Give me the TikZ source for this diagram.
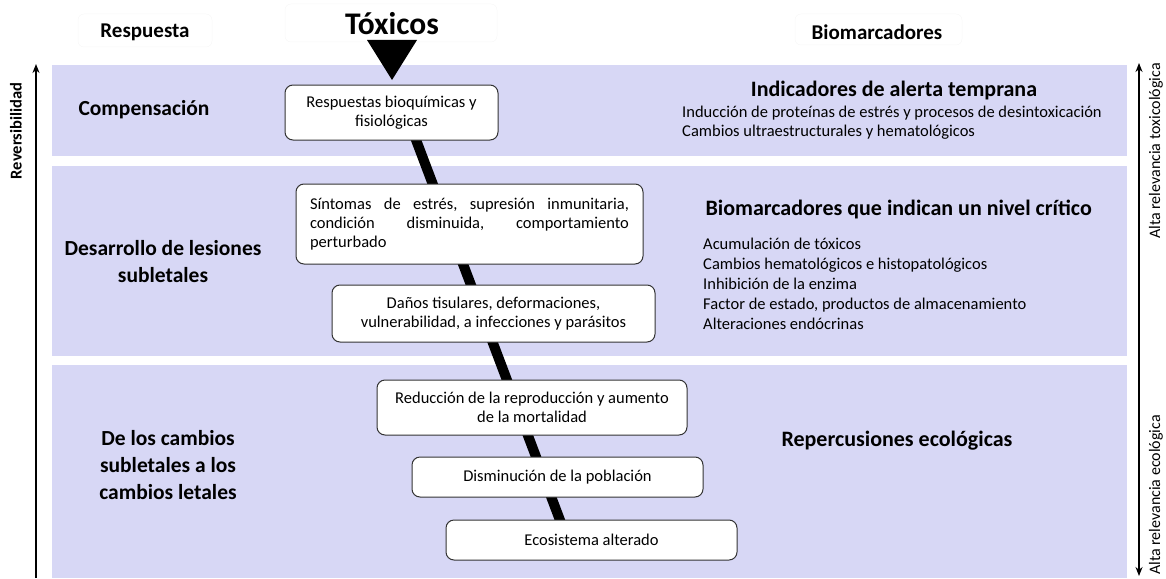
\documentclass[tikz,border=0pt]{standalone}
\usepackage{fontspec}
\setmainfont{Carlito}
\usetikzlibrary{arrows.meta,calc}
\definecolor{band}{HTML}{D7D7F5}
\pgfdeclarelayer{bg}
\pgfsetlayers{bg,main}
\begin{document}
\begin{tikzpicture}[x=1pt,y=-1pt,
  bandbox/.style={fill=band,draw=none},
  stage/.style={draw=black!80,line width=1pt,rounded corners=8pt,fill=white,font=\fontsize{16.5}{18.5}\selectfont,align=center,inner sep=0pt},
  seclabel/.style={font=\bfseries\fontsize{21.5}{27}\selectfont,align=center},
  head/.style={font=\bfseries\fontsize{21}{24}\selectfont},
  rhead/.style={font=\bfseries\fontsize{22}{26}\selectfont},
  body/.style={font=\fontsize{16.5}{20}\selectfont,align=left,inner sep=0pt},
  side/.style={font=\fontsize{16}{18}\selectfont,rotate=90,inner sep=0pt},
  axis/.style={line width=1.6pt,-{Stealth[length=9pt,width=7pt]}},
  faint/.style={draw=black!3,rounded corners=6pt,line width=0.5pt}
]
\useasboundingbox (0,0) rectangle (1166,578);
\begin{pgfonlayer}{bg}
\fill[band] (52,65) rectangle (1127,156);
\fill[band] (52,166) rectangle (1127,356);
\fill[band] (52,365) rectangle (1127,578);
\end{pgfonlayer}

% faint header frames
\draw[faint] (78,14) rectangle (212,47);
\draw[faint] (285,4) rectangle (497,42);
\draw[faint] (795,14) rectangle (962,45);

% headers
\node[head] (hresp) at (145,32) {Respuesta};
\node[font=\bfseries\fontsize{31.5}{36}\selectfont] (htox) at (392,24) {Tóxicos};
\node[head] (hbio) at (877,32) {Biomarcadores};
\fill (367,40) -- (417,40) -- (392,80) -- cycle;

% side axes
\coordinate (la) at (36,578);
\coordinate (lb) at (36,64);
\draw[axis] (la) -- (lb);
\node[side,font=\bfseries\fontsize{16.5}{19}\selectfont] (lrev) at (16,131) {Reversibilidad};
\coordinate (ra) at (1139,63);
\coordinate (rb) at (1139,576);
\draw[line width=1.6pt,{Stealth[length=9pt,width=7pt]}-{Stealth[length=9pt,width=7pt]}] (ra) -- (rb);
\node[side,anchor=east] (rtox) at (1156,63) {Alta relevancia toxicológica};
\node[side,anchor=west] (reco) at (1156,575) {Alta relevancia ecológica};

% left section labels
\node[seclabel] (s1) at (144,110) {Compensación};
\node[seclabel] (s2) at (163,262) {Desarrollo de lesiones\\subletales};
\node[seclabel] (s3) at (168,465) {De los cambios\\subletales a los\\cambios letales};

% stage boxes
\node[stage,minimum width=213pt,minimum height=55pt] (b1) at (391.5,112.5) {Respuestas bioquímicas y\\fisiológicas};
\node[stage,minimum width=347pt,minimum height=80pt,text width=319pt,align=left,font=\fontsize{16.5}{19}\selectfont] (b2) at (469.5,224) {Síntomas\hfill de\hfill estrés,\hfill supresión\hfill inmunitaria,\\condición\hfill disminuida,\hfill comportamiento\\perturbado};
\node[stage,minimum width=323pt,minimum height=57pt] (b3) at (493.5,313.5) {Daños tisulares, deformaciones,\\vulnerabilidad, a infecciones y parásitos};
\node[stage,minimum width=310pt,minimum height=55pt] (b4) at (532,407.5) {Reducción de la reproducción y aumento\\de la mortalidad};
\node[stage,minimum width=291pt,minimum height=40pt] (b5) at (557.5,477) {Disminución de la población};
\node[stage,minimum width=291pt,minimum height=40pt] (b6) at (591.5,540) {Ecosistema alterado};

\begin{pgfonlayer}{bg}
\draw[line width=10pt] ($(b1.south)+(24,-2)$) -- ($(b6.north)+(-31,2)$);
\end{pgfonlayer}

% right texts
\node[rhead] (r1h) at (894,91) {Indicadores de alerta temprana};
\node[body,anchor=west] (r1a) at (682,113) {Inducción de proteínas de estrés y procesos de desintoxicación};
\node[body,anchor=west] (r1b) at (682,132) {Cambios ultraestructurales y hematológicos};
\node[rhead,anchor=west] (r2h) at (702,209) {Biomarcadores que indican un nivel crítico};
\node[body,anchor=north west] (r2l) at (703,238) {Acumulación de tóxicos\\Cambios hematológicos e histopatológicos\\Inhibición de la enzima\\Factor de estado, productos de almacenamiento\\Alteraciones endócrinas};
\node[rhead] (r3h) at (897,441) {Repercusiones ecológicas};
\end{tikzpicture}
\end{document}
